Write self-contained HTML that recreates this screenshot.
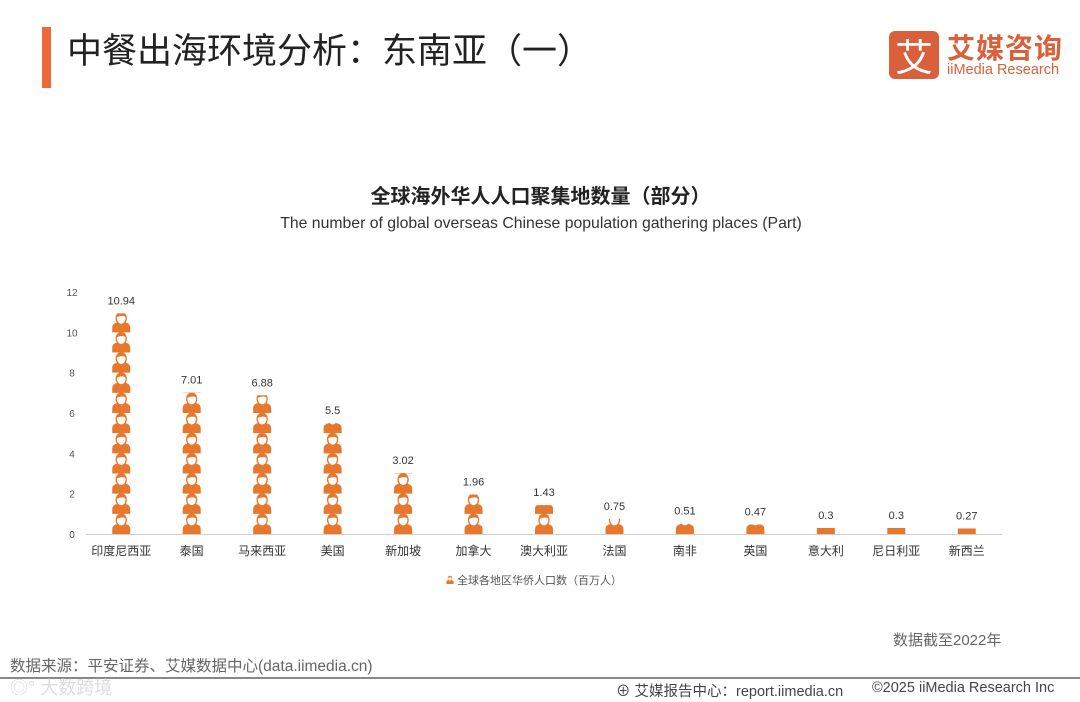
<!DOCTYPE html>
<html><head><meta charset="utf-8"><style>
body{margin:0;width:1080px;height:702px;background:#fff;position:relative;overflow:hidden;font-family:"Liberation Sans","Noto Sans CJK SC",sans-serif;}
.abs{position:absolute;white-space:nowrap;}
</style></head><body>
<div class="abs" style="left:42px;top:27px;width:9px;height:61px;background:#ec6a3a"></div>
<div class="abs" style="left:67px;top:30px;font-size:35px;color:#222;line-height:44px">中餐出海环境分析：东南亚（一）</div>
<div class="abs" style="left:889px;top:31px;">
  <div style="position:absolute;left:0;top:0;width:50px;height:48px;background:#d9603a;border-radius:6px;color:#fff;font-size:38px;line-height:48px;text-align:center;font-family:'Noto Sans CJK SC',sans-serif">艾</div>
  <div style="position:absolute;left:58px;top:-4px;font-size:28px;font-weight:bold;color:#d9603a;white-space:nowrap;letter-spacing:1px">艾媒咨询</div>
  <div style="position:absolute;left:58px;top:31px;font-size:14.5px;color:#d9603a;white-space:nowrap">iiMedia Research</div>
</div>
<div class="abs" style="left:0;width:1081px;text-align:center;top:180px;font-size:20px;font-weight:bold;color:#222">全球海外华人人口聚集地数量（部分）</div>
<div class="abs" style="left:0;width:1082px;text-align:center;top:215px;font-size:15.8px;color:#333">The number of global overseas Chinese population gathering places (Part)</div>
<svg class="abs" style="left:0;top:0" width="1080" height="702" id="chart">
  <defs>
    <g id="person">
      <path d="M-9,0 L-9,-5 Q-9,-9 -4,-10 L4,-10 Q9,-9 9,-5 L9,0 Z" fill="#e8772e"/>
      <path d="M-2,-10 L0,-7 L2,-10 Z" fill="#fff"/>
      <ellipse cx="0" cy="-14" rx="5" ry="6" fill="#fff" stroke="#e8772e" stroke-width="1.3"/>
      <path d="M-5,-15 Q-5,-20 0,-20 Q5,-20 5,-15 Q2,-18 -5,-15Z" fill="#e8772e"/>
    </g>
  </defs>
</svg>
<div class="abs" style="left:893px;top:629px;font-size:15px;color:#666">数据截至2022年</div>
<div class="abs" style="left:10px;top:654px;font-size:15.5px;color:#666">数据来源：平安证券、艾媒数据中心(data.iimedia.cn)</div>
<div class="abs" style="left:0;top:677px;width:1080px;height:2px;background:#888"></div>
<div class="abs" style="left:10px;top:674px;font-size:18px;color:#ddd">◎° 大数跨境</div>
<div class="abs" style="left:616px;top:680px;font-size:14.5px;color:#444">⊕ 艾媒报告中心：report.iimedia.cn</div>
<div class="abs" style="left:872px;top:680px;font-size:14.5px;color:#444">©2025  iiMedia Research  Inc</div>
<script>
const categories=["印度尼西亚","泰国","马来西亚","美国","新加坡","加拿大","澳大利亚","法国","南非","英国","意大利","尼日利亚","新西兰"];
const values=[10.94,7.01,6.88,5.5,3.02,1.96,1.43,0.75,0.51,0.47,0.3,0.3,0.27];
const yTicks=[0,2,4,6,8,10,12];
const NS="http://www.w3.org/2000/svg";
const svg=document.getElementById('chart');
const x0=86,x1=1002,y0=534,y12=292;
const y=v=>y0-(v/12)*(y0-y12);
const step=(x1-x0)/categories.length;
const x=i=>x0+step*(i+0.5);
function el(t,a){const e=document.createElementNS(NS,t);for(const k in a)e.setAttribute(k,a[k]);svg.appendChild(e);return e;}
const ax=el('line',{x1:x0,x2:x1,y1:y0+0.5,y2:y0+0.5,stroke:'#d0d0d0','stroke-width':1});


yTicks.forEach(t=>{const e=el('text',{x:72,y:y(t)+4,'text-anchor':'middle','font-size':10,fill:'#555'});e.textContent=t;

});
categories.forEach((c,i)=>{
  const cx=x(i),v=values[i],top=y(v);
  const cp=el('clipPath',{id:'cp'+i});
  const r=document.createElementNS(NS,'rect');r.setAttribute('x',cx-12);r.setAttribute('y',top);r.setAttribute('width',24);r.setAttribute('height',y0-top);cp.appendChild(r);
  const g=el('g',{'clip-path':'url(#cp'+i+')'});
  
  
  const n=Math.ceil(v);
  for(let k=0;k<n;k++){const u=document.createElementNS(NS,'use');u.setAttribute('href','#person');u.setAttribute('transform','translate('+cx+','+y(k)+')');g.appendChild(u);}
  const lb=el('text',{x:cx,y:top-9,'text-anchor':'middle','font-size':11,fill:'#333'});lb.textContent=v;
  
  
  const cl=el('text',{x:cx,y:555,'text-anchor':'middle','font-size':12,fill:'#333'});cl.textContent=c;
  
  
});
const lg=el('g',{});


const lu=document.createElementNS(NS,'use');lu.setAttribute('href','#person');lu.setAttribute('transform','translate(450,584) scale(0.4)');lg.appendChild(lu);
const lt=document.createElementNS(NS,'text');lt.setAttribute('x',457);lt.setAttribute('y',584);lt.setAttribute('font-size',11);lt.setAttribute('fill','#555');lt.textContent='全球各地区华侨人口数（百万人）';lg.appendChild(lt);
</script>
</body></html>
